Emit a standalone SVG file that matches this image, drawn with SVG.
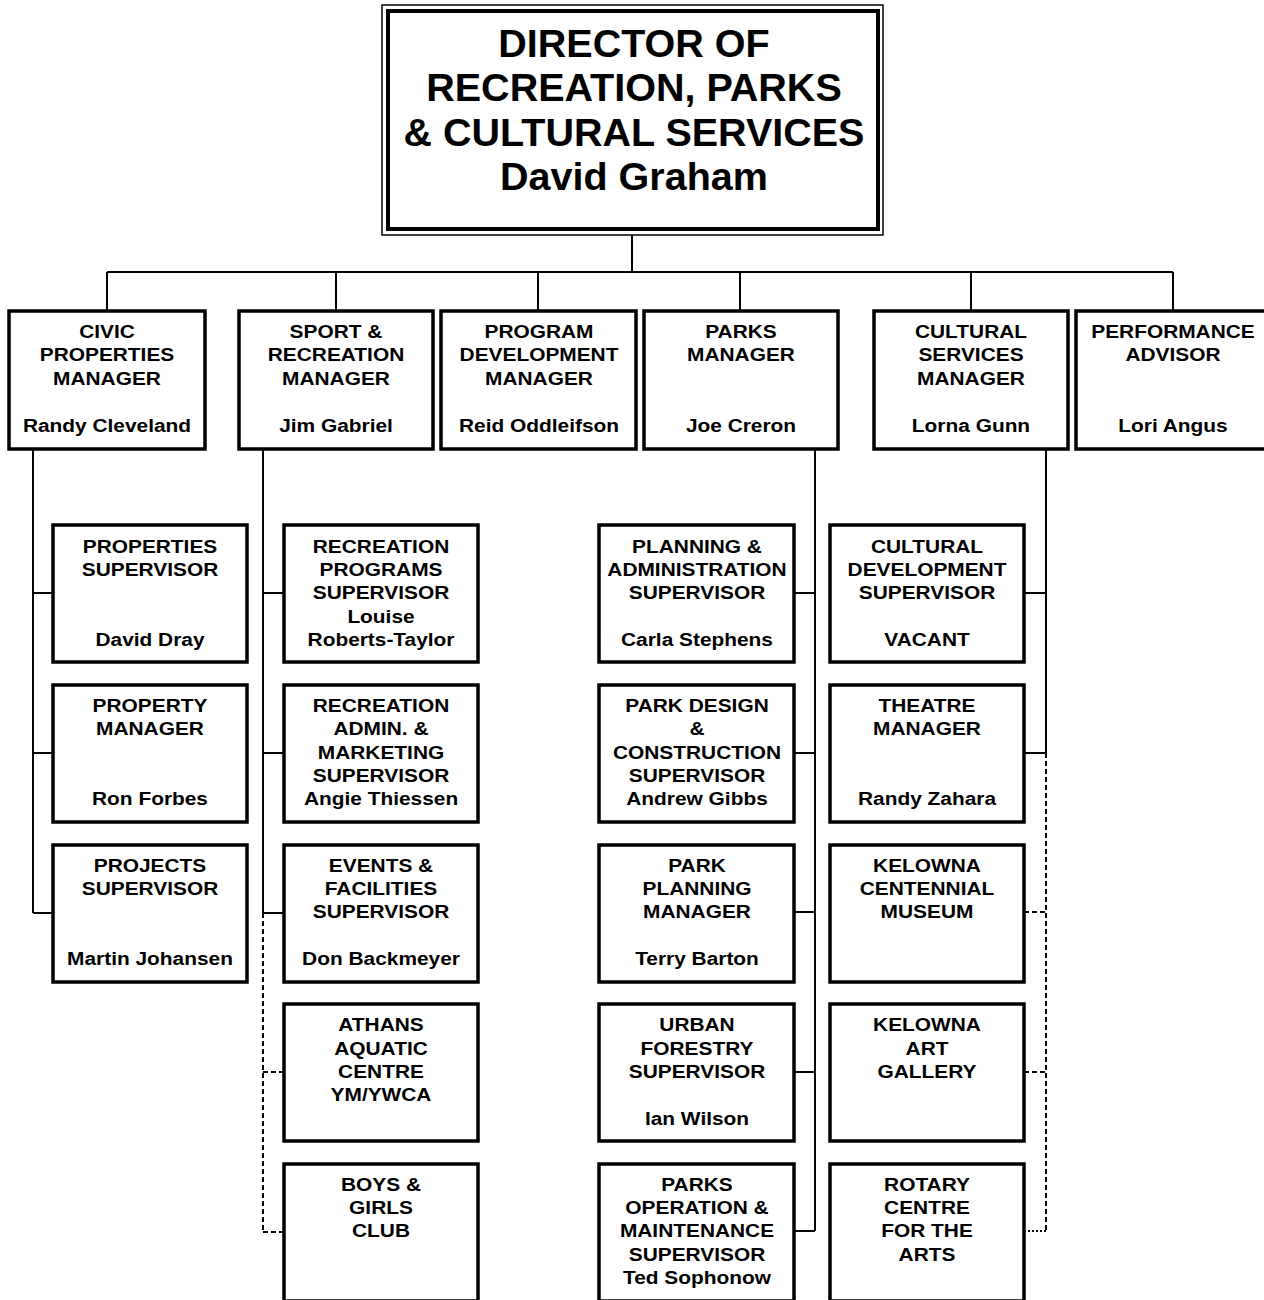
<svg xmlns="http://www.w3.org/2000/svg" width="1264" height="1300" viewBox="0 0 1264 1300">
<style>
.box{fill:#fff;stroke:#000;stroke-width:3.5}
.t{font-family:"Liberation Sans",Arial,sans-serif;font-weight:bold;font-size:18px;text-anchor:middle;fill:#000}
.title{font-family:"Liberation Sans",Arial,sans-serif;font-weight:bold;font-size:39.5px;text-anchor:middle;fill:#000}
.c{fill:none;stroke:#000;stroke-width:2}
.d{fill:none;stroke:#000;stroke-width:2;stroke-dasharray:5,3}
.o{fill:none;stroke:#000;stroke-width:2;stroke-dasharray:2,2}
</style>
<rect width="1264" height="1300" fill="#fff"/>
<g id="connectors">
<path class="c" d="M632 235V272M107 272H1173M107 272V311M336 272V311M538 272V311M740 272V311M971 272V311M1173 272V311"/>
<path class="c" d="M33 449V913M33 593H53M33 753H53M33 913H53"/>
<path class="c" d="M263 449V913M263 593H284M263 753H284M263 913H284"/>
<path class="d" d="M263 913V1232M263 1072H284M263 1232H284"/>
<path class="c" d="M815 449V1231M794 593H815M794 753H815M794 912H815M794 1072H815M794 1231H815"/>
<path class="c" d="M1046 449V753M1024 593H1046M1024 753H1046"/>
<path class="d" d="M1046 753V1231M1024 912H1046M1024 1072H1046"/>
<path class="o" d="M1024 1231H1046"/>
</g>
<g id="director">
<rect x="382" y="5" width="501" height="230" fill="#fff" stroke="#000" stroke-width="1.5"/>
<rect x="388" y="11" width="490" height="218" fill="none" stroke="#000" stroke-width="4"/>
<text class="title" x="634" y="57">DIRECTOR OF</text>
<text class="title" x="634" y="101">RECREATION, PARKS</text>
<text class="title" x="634" y="146">&amp; CULTURAL SERVICES</text>
<text class="title" x="634" y="190">David Graham</text>
</g>
<g id="civic">
<rect class="box" x="9" y="311" width="196" height="138"/>
<g transform="translate(107 0) scale(1.16 1)">
<text class="t" x="0" y="338">CIVIC</text>
<text class="t" x="0" y="361">PROPERTIES</text>
<text class="t" x="0" y="385">MANAGER</text>
<text class="t" x="0" y="432">Randy Cleveland</text>
</g>
</g>
<g id="sport">
<rect class="box" x="239" y="311" width="194" height="138"/>
<g transform="translate(336 0) scale(1.16 1)">
<text class="t" x="0" y="338">SPORT &amp;</text>
<text class="t" x="0" y="361">RECREATION</text>
<text class="t" x="0" y="385">MANAGER</text>
<text class="t" x="0" y="432">Jim Gabriel</text>
</g>
</g>
<g id="program">
<rect class="box" x="441" y="311" width="195" height="138"/>
<g transform="translate(539 0) scale(1.16 1)">
<text class="t" x="0" y="338">PROGRAM</text>
<text class="t" x="0" y="361">DEVELOPMENT</text>
<text class="t" x="0" y="385">MANAGER</text>
<text class="t" x="0" y="432">Reid Oddleifson</text>
</g>
</g>
<g id="parks">
<rect class="box" x="644" y="311" width="194" height="138"/>
<g transform="translate(741 0) scale(1.16 1)">
<text class="t" x="0" y="338">PARKS</text>
<text class="t" x="0" y="361">MANAGER</text>
<text class="t" x="0" y="432">Joe Creron</text>
</g>
</g>
<g id="cultural">
<rect class="box" x="874" y="311" width="194" height="138"/>
<g transform="translate(971 0) scale(1.16 1)">
<text class="t" x="0" y="338">CULTURAL</text>
<text class="t" x="0" y="361">SERVICES</text>
<text class="t" x="0" y="385">MANAGER</text>
<text class="t" x="0" y="432">Lorna Gunn</text>
</g>
</g>
<g id="performance">
<rect class="box" x="1076" y="311" width="194" height="138"/>
<g transform="translate(1173 0) scale(1.16 1)">
<text class="t" x="0" y="338">PERFORMANCE</text>
<text class="t" x="0" y="361">ADVISOR</text>
<text class="t" x="0" y="432">Lori Angus</text>
</g>
</g>
<g id="properties-supervisor">
<rect class="box" x="53" y="525" width="194" height="137"/>
<g transform="translate(150 0) scale(1.16 1)">
<text class="t" x="0" y="553">PROPERTIES</text>
<text class="t" x="0" y="576">SUPERVISOR</text>
<text class="t" x="0" y="646">David Dray</text>
</g>
</g>
<g id="property-manager">
<rect class="box" x="53" y="685" width="194" height="137"/>
<g transform="translate(150 0) scale(1.16 1)">
<text class="t" x="0" y="712">PROPERTY</text>
<text class="t" x="0" y="735">MANAGER</text>
<text class="t" x="0" y="805">Ron Forbes</text>
</g>
</g>
<g id="projects-supervisor">
<rect class="box" x="53" y="845" width="194" height="137"/>
<g transform="translate(150 0) scale(1.16 1)">
<text class="t" x="0" y="872">PROJECTS</text>
<text class="t" x="0" y="895">SUPERVISOR</text>
<text class="t" x="0" y="965">Martin Johansen</text>
</g>
</g>
<g id="recreation-programs">
<rect class="box" x="284" y="525" width="194" height="137"/>
<g transform="translate(381 0) scale(1.16 1)">
<text class="t" x="0" y="553">RECREATION</text>
<text class="t" x="0" y="576">PROGRAMS</text>
<text class="t" x="0" y="599">SUPERVISOR</text>
<text class="t" x="0" y="623">Louise</text>
<text class="t" x="0" y="646">Roberts-Taylor</text>
</g>
</g>
<g id="recreation-admin">
<rect class="box" x="284" y="685" width="194" height="137"/>
<g transform="translate(381 0) scale(1.16 1)">
<text class="t" x="0" y="712">RECREATION</text>
<text class="t" x="0" y="735">ADMIN. &amp;</text>
<text class="t" x="0" y="759">MARKETING</text>
<text class="t" x="0" y="782">SUPERVISOR</text>
<text class="t" x="0" y="805">Angie Thiessen</text>
</g>
</g>
<g id="events-facilities">
<rect class="box" x="284" y="845" width="194" height="137"/>
<g transform="translate(381 0) scale(1.16 1)">
<text class="t" x="0" y="872">EVENTS &amp;</text>
<text class="t" x="0" y="895">FACILITIES</text>
<text class="t" x="0" y="918">SUPERVISOR</text>
<text class="t" x="0" y="965">Don Backmeyer</text>
</g>
</g>
<g id="athans">
<rect class="box" x="284" y="1004" width="194" height="137"/>
<g transform="translate(381 0) scale(1.16 1)">
<text class="t" x="0" y="1031">ATHANS</text>
<text class="t" x="0" y="1055">AQUATIC</text>
<text class="t" x="0" y="1078">CENTRE</text>
<text class="t" x="0" y="1101">YM/YWCA</text>
</g>
</g>
<g id="boys-girls">
<rect class="box" x="284" y="1164" width="194" height="137"/>
<g transform="translate(381 0) scale(1.16 1)">
<text class="t" x="0" y="1191">BOYS &amp;</text>
<text class="t" x="0" y="1214">GIRLS</text>
<text class="t" x="0" y="1237">CLUB</text>
</g>
</g>
<g id="planning-admin">
<rect class="box" x="599" y="525" width="195" height="137"/>
<g transform="translate(697 0) scale(1.16 1)">
<text class="t" x="0" y="553">PLANNING &amp;</text>
<text class="t" x="0" y="576">ADMINISTRATION</text>
<text class="t" x="0" y="599">SUPERVISOR</text>
<text class="t" x="0" y="646">Carla Stephens</text>
</g>
</g>
<g id="park-design">
<rect class="box" x="599" y="685" width="195" height="137"/>
<g transform="translate(697 0) scale(1.16 1)">
<text class="t" x="0" y="712">PARK DESIGN</text>
<text class="t" x="0" y="735">&amp;</text>
<text class="t" x="0" y="759">CONSTRUCTION</text>
<text class="t" x="0" y="782">SUPERVISOR</text>
<text class="t" x="0" y="805">Andrew Gibbs</text>
</g>
</g>
<g id="park-planning">
<rect class="box" x="599" y="845" width="195" height="137"/>
<g transform="translate(697 0) scale(1.16 1)">
<text class="t" x="0" y="872">PARK</text>
<text class="t" x="0" y="895">PLANNING</text>
<text class="t" x="0" y="918">MANAGER</text>
<text class="t" x="0" y="965">Terry Barton</text>
</g>
</g>
<g id="urban-forestry">
<rect class="box" x="599" y="1004" width="195" height="137"/>
<g transform="translate(697 0) scale(1.16 1)">
<text class="t" x="0" y="1031">URBAN</text>
<text class="t" x="0" y="1055">FORESTRY</text>
<text class="t" x="0" y="1078">SUPERVISOR</text>
<text class="t" x="0" y="1125">Ian Wilson</text>
</g>
</g>
<g id="parks-operation">
<rect class="box" x="599" y="1164" width="195" height="137"/>
<g transform="translate(697 0) scale(1.16 1)">
<text class="t" x="0" y="1191">PARKS</text>
<text class="t" x="0" y="1214">OPERATION &amp;</text>
<text class="t" x="0" y="1237">MAINTENANCE</text>
<text class="t" x="0" y="1261">SUPERVISOR</text>
<text class="t" x="0" y="1284">Ted Sophonow</text>
</g>
</g>
<g id="cultural-development">
<rect class="box" x="830" y="525" width="194" height="137"/>
<g transform="translate(927 0) scale(1.16 1)">
<text class="t" x="0" y="553">CULTURAL</text>
<text class="t" x="0" y="576">DEVELOPMENT</text>
<text class="t" x="0" y="599">SUPERVISOR</text>
<text class="t" x="0" y="646">VACANT</text>
</g>
</g>
<g id="theatre-manager">
<rect class="box" x="830" y="685" width="194" height="137"/>
<g transform="translate(927 0) scale(1.16 1)">
<text class="t" x="0" y="712">THEATRE</text>
<text class="t" x="0" y="735">MANAGER</text>
<text class="t" x="0" y="805">Randy Zahara</text>
</g>
</g>
<g id="museum">
<rect class="box" x="830" y="845" width="194" height="137"/>
<g transform="translate(927 0) scale(1.16 1)">
<text class="t" x="0" y="872">KELOWNA</text>
<text class="t" x="0" y="895">CENTENNIAL</text>
<text class="t" x="0" y="918">MUSEUM</text>
</g>
</g>
<g id="art-gallery">
<rect class="box" x="830" y="1004" width="194" height="137"/>
<g transform="translate(927 0) scale(1.16 1)">
<text class="t" x="0" y="1031">KELOWNA</text>
<text class="t" x="0" y="1055">ART</text>
<text class="t" x="0" y="1078">GALLERY</text>
</g>
</g>
<g id="rotary">
<rect class="box" x="830" y="1164" width="194" height="137"/>
<g transform="translate(927 0) scale(1.16 1)">
<text class="t" x="0" y="1191">ROTARY</text>
<text class="t" x="0" y="1214">CENTRE</text>
<text class="t" x="0" y="1237">FOR THE</text>
<text class="t" x="0" y="1261">ARTS</text>
</g>
</g>
</svg>
